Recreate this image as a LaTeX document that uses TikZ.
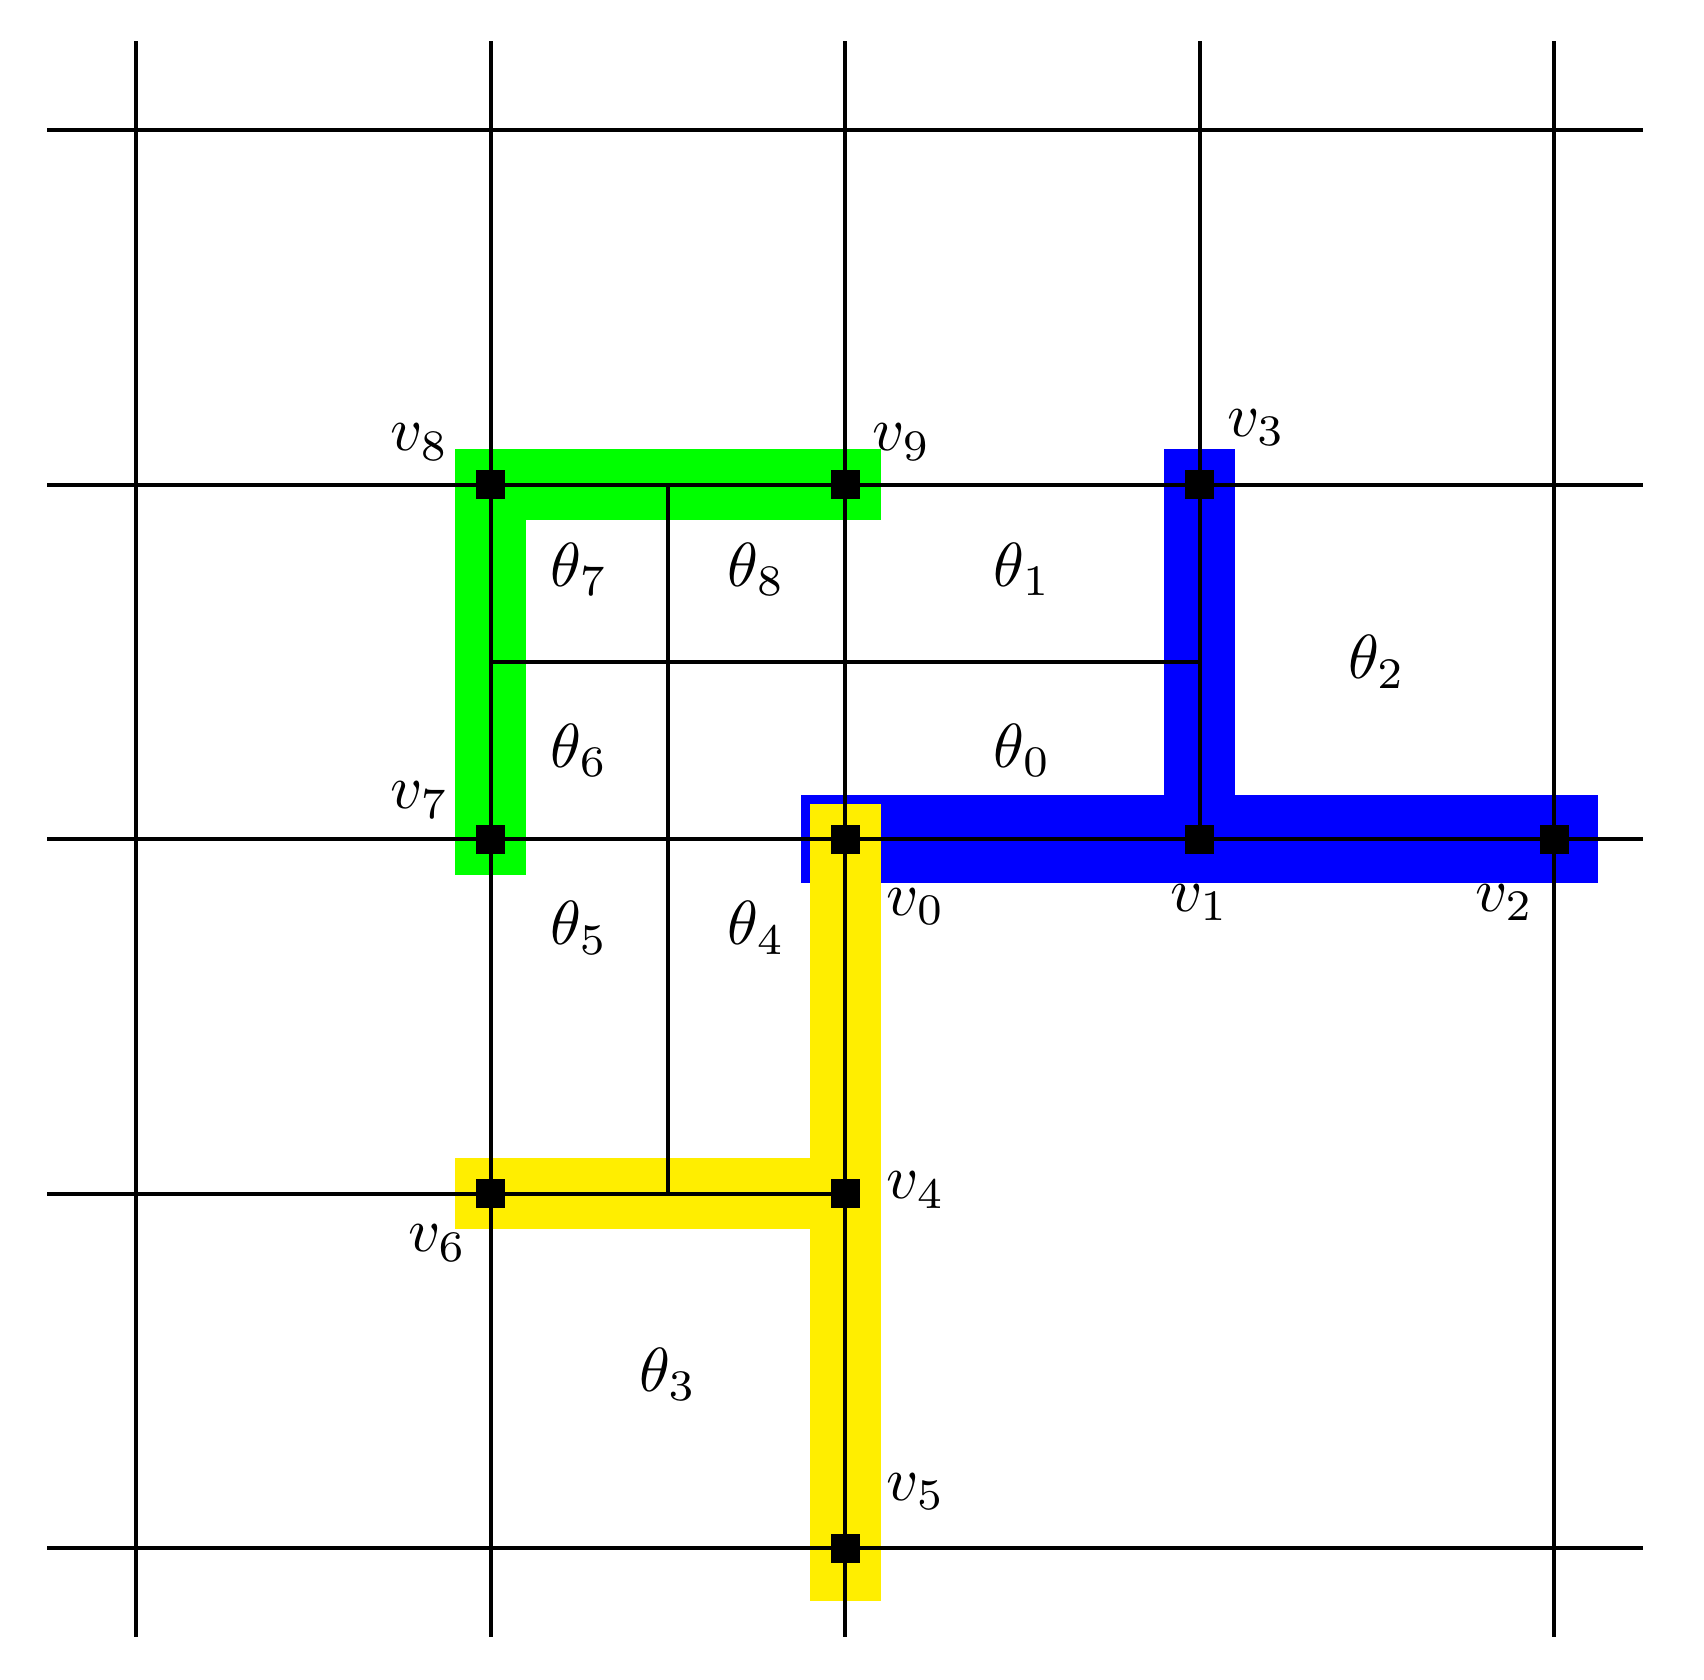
\documentclass[tikz,border=0pt]{standalone}
\usepackage{amsmath,amssymb}
\usepackage{tikz}
\usetikzlibrary{positioning}

\definecolor{bandyellow}{RGB}{255,238,0}

\begin{document}
\begin{tikzpicture}[
    x=2cm, y=2cm,
    vtx/.style={rectangle, fill=black, minimum size=0.15cm, inner sep=0pt},
    gridline/.style={line width=0.65pt},
    band/.style={line width=0.4cm, line cap=rect, line join=miter},
    lbl/.style={inner sep=0pt}
]
\useasboundingbox (-0.384,-0.372) rectangle (4.423,4.367);

% Nodes
\node[vtx] (v0) at (2,2) {};
\node[vtx] (v1) at (3,2) {};
\node[vtx] (v2) at (4,2) {};
\node[vtx] (v3) at (3,3) {};
\node[vtx] (v4) at (2,1) {};
\node[vtx] (v5) at (2,0) {};
\node[vtx] (v6) at (1,1) {};
\node[vtx] (v7) at (1,2) {};
\node[vtx] (v8) at (1,3) {};
\node[vtx] (v9) at (2,3) {};
\coordinate (m3) at (1.5,3);
\coordinate (m1) at (1.5,1);
\coordinate (h1) at (1,2.5);
\coordinate (h3) at (3,2.5);
\coordinate (top3) at (3,4.25);
\coordinate (left1) at (-0.25,1);

% Bands
\draw[band, blue, line width=0.5cm] (v0.center) -- (v2.center);
\draw[band, blue] (v1.center) -- (v3.center);
\draw[band, bandyellow] (v6.center) -- (v4.center);
\draw[band, bandyellow, shorten <=-0.1cm] (v5.center) -- (v0.center);
\draw[band, green] (v7.center) -- (v8.center) -- (v9.center);

% Grid
\foreach \i in {0,1,2,4} {
  \draw[gridline] (\i,-0.25) -- (\i,4.25);
}
\foreach \j in {0,2,3,4} {
  \draw[gridline] (-0.25,\j) -- (4.25,\j);
}
\draw[gridline] (top3) -- (v1.center);
\draw[gridline] (left1) -- (v4.center);
\draw[gridline] (m3) -- (m1);
\draw[gridline] (h1) -- (h3);

% Vertices on top
\foreach \v in {v0,v1,v2,v3,v4,v5,v6,v7,v8,v9} {
  \fill (\v.south west) rectangle (\v.north east);
}

% Labels
\node[lbl] (l0) at (2.2,1.81) {$v_0$};
\node[lbl] (l1) at (3.0,1.82) {$v_1$};
\node[lbl] (l2) at (3.86,1.82) {$v_2$};
\node[lbl] (l3) at (3.16,3.16) {$v_3$};
\node[lbl] (l4) at (2.2,1.01) {$v_4$};
\node[lbl] (l5) at (2.2,0.16) {$v_5$};
\node[lbl] (l6) at (0.85,0.86) {$v_6$};
\node[lbl] (l7) at (0.8,2.11) {$v_7$};
\node[lbl] (l8) at (0.8,3.12) {$v_8$};
\node[lbl] (l9) at (2.16,3.12) {$v_9$};

\node[lbl] (t0) at (2.5,2.25) {$\theta_0$};
\node[lbl] (t1) at (2.5,2.76) {$\theta_1$};
\node[lbl] (t2) at (3.5,2.5) {$\theta_2$};
\node[lbl] (t3) at (1.5,0.49) {$\theta_3$};
\node[lbl] (t4) at (1.75,1.75) {$\theta_4$};
\node[lbl] (t5) at (1.25,1.75) {$\theta_5$};
\node[lbl] (t6) at (1.25,2.25) {$\theta_6$};
\node[lbl] (t7) at (1.25,2.76) {$\theta_7$};
\node[lbl] (t8) at (1.75,2.76) {$\theta_8$};
\end{tikzpicture}
\end{document}
